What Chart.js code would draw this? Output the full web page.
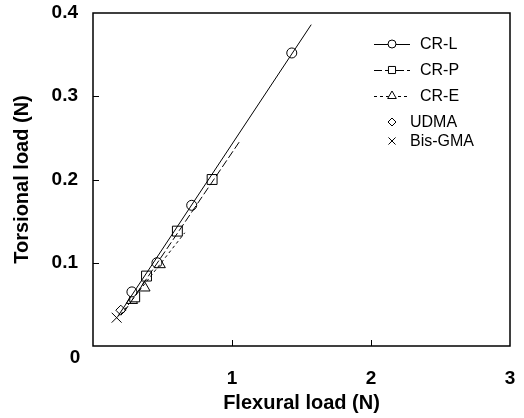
<!DOCTYPE html>
<html>
<head>
<meta charset="utf-8">
<script src="https://cdn.jsdelivr.net/npm/chart.js@4"></script>
<style>
html,body{margin:0;padding:0;background:#fff;}
#wrap{width:524px;height:418px;}
</style>
</head>
<body>
<div id="wrap"><canvas id="c" width="524" height="418"></canvas></div>
<script>
// ---- data ----
const crL_x = [0.28, 0.46, 0.71, 1.43];
const crL_y = [0.065, 0.100, 0.169, 0.352];
const crP_x = [0.30, 0.385, 0.607, 0.857];
const crP_y = [0.059, 0.084, 0.138, 0.200];
const crE_x = [0.28, 0.37, 0.48];
const crE_y = [0.055, 0.070, 0.098];
const udma_x = [0.20];
const udma_y = [0.043];
const bis_x = [0.17];
const bis_y = [0.034];
// fitted lines (end points)
const fitL_x = [0.18, 1.57];
const fitL_y = [0.036, 0.386];
const fitP_x = [0.22, 1.06];
const fitP_y = [0.040, 0.247];
const fitE_x = [0.20, 0.66];
const fitE_y = [0.038, 0.136];
const xTicks = [0, 1, 2, 3];
const yTicks = [0, 0.1, 0.2, 0.3, 0.4];
const seriesNames = ['CR-L', 'CR-P', 'CR-E', 'UDMA', 'Bis-GMA'];

const pts = (xs, ys) => xs.map((x, i) => ({x: x, y: ys[i]}));
const FONT = '"Liberation Sans", Arial, Helvetica, sans-serif';

const markerStyles = [
  {pointStyle: 'circle', r: 5, dash: []},
  {pointStyle: 'rect', r: 7, dash: [8, 3]},
  {pointStyle: 'triangle', r: 6.5, dash: [3, 3]},
  {pointStyle: 'rectRot', r: 5, dash: null},
  {pointStyle: 'crossRot', r: 7, dash: null}
];

function markerDS(label, data, st) {
  return {
    label: label, data: data, showLine: false,
    pointStyle: st.pointStyle, pointRadius: st.r,
    pointBorderColor: '#000', pointBackgroundColor: '#fff',
    pointBorderWidth: 1, borderColor: '#000', order: 2
  };
}
function fitDS(label, data, dash) {
  return {
    label: label, data: data, showLine: true, pointRadius: 0,
    borderColor: '#000', borderWidth: 1, borderDash: dash, fill: false, order: 1
  };
}

const datasets = [
  fitDS('CR-L fit', pts(fitL_x, fitL_y), []),
  fitDS('CR-P fit', pts(fitP_x, fitP_y), [8, 3]),
  fitDS('CR-E fit', pts(fitE_x, fitE_y), [3, 3]),
  markerDS(seriesNames[0], pts(crL_x, crL_y), markerStyles[0]),
  markerDS(seriesNames[1], pts(crP_x, crP_y), markerStyles[1]),
  markerDS(seriesNames[2], pts(crE_x, crE_y), markerStyles[2]),
  markerDS(seriesNames[3], pts(udma_x, udma_y), markerStyles[3]),
  markerDS(seriesNames[4], pts(bis_x, bis_y), markerStyles[4])
];

const extras = {
  id: 'extras',
  afterDraw(chart) {
    const ctx = chart.ctx, xs = chart.scales.x, ys = chart.scales.y, a = chart.chartArea;
    ctx.save();
    // frame
    ctx.strokeStyle = '#000';
    ctx.lineWidth = 1.5;
    ctx.strokeRect(a.left, a.top, a.right - a.left, a.bottom - a.top);
    // inward ticks
    ctx.lineWidth = 1;
    ctx.beginPath();
    xTicks.slice(1, -1).forEach(v => {
      const px = Math.round(xs.getPixelForValue(v)) + 0.5;
      ctx.moveTo(px, a.bottom); ctx.lineTo(px, a.bottom - 6);
    });
    yTicks.slice(1, -1).forEach(v => {
      const py = Math.round(ys.getPixelForValue(v)) + 0.5;
      ctx.moveTo(a.left, py); ctx.lineTo(a.left + 6, py);
    });
    ctx.stroke();
    // shared origin label
    ctx.fillStyle = '#000';
    ctx.font = 'bold 19px ' + FONT;
    ctx.textAlign = 'center';
    ctx.textBaseline = 'middle';
    ctx.fillText('0', xs.getPixelForValue(0) - 18, ys.getPixelForValue(0) + 12);
    // legend
    const lx = 374, rowsY = [44, 70, 96, 122, 141];
    ctx.font = '16px ' + FONT;
    ctx.textAlign = 'left';
    seriesNames.forEach((name, i) => {
      const st = markerStyles[i], y = rowsY[i];
      ctx.strokeStyle = '#000';
      ctx.lineWidth = 1;
      if (st.dash) {
        ctx.setLineDash(st.dash);
        ctx.beginPath();
        ctx.moveTo(lx, y + 0.5); ctx.lineTo(lx + 36, y + 0.5);
        ctx.stroke();
        ctx.setLineDash([]);
      }
      ctx.fillStyle = '#fff';
      Chart.helpers.drawPoint(ctx, {pointStyle: st.pointStyle, radius: Math.min(st.r, 6) - 1, borderWidth: 1, rotation: 0}, lx + 18, y);
      ctx.fillStyle = '#000';
      ctx.fillText(name, st.dash ? lx + 46 : lx + 36, y + 1);
    });
    ctx.restore();
  }
};

new Chart(document.getElementById('c'), {
  type: 'scatter',
  data: {datasets: datasets},
  options: {
    responsive: false,
    animation: false,
    devicePixelRatio: 1,
    layout: {padding: {left: 0, right: 14, top: 13, bottom: 0}},
    plugins: {legend: {display: false}, tooltip: {enabled: false}},
    scales: {
      x: {
        type: 'linear', min: 0, max: 3,
        afterBuildTicks(s) { s.ticks = xTicks.map(v => ({value: v})); },
        afterFit(s) { s.height = 72; s.paddingLeft = 0; s.paddingRight = 0; },
        grid: {display: false, drawTicks: false},
        border: {display: false},
        ticks: {
          padding: 21, color: '#000', font: {family: FONT, size: 19, weight: 'bold'},
          callback: v => (v === 0 ? '' : String(v))
        },
        title: {display: true, text: 'Flexural load (N)', color: '#000',
          font: {family: FONT, size: 20, weight: 'bold'}, padding: {top: 0, bottom: 3}}
      },
      y: {
        type: 'linear', min: 0, max: 0.4,
        afterBuildTicks(s) { s.ticks = yTicks.map(v => ({value: v})); },
        afterFit(s) { s.width = 93; s.paddingTop = 0; s.paddingBottom = 0; },
        grid: {display: false, drawTicks: false},
        border: {display: false},
        ticks: {
          padding: 15, color: '#000', font: {family: FONT, size: 19, weight: 'bold'},
          callback: v => (v === 0 ? '' : v.toFixed(1))
        },
        title: {display: true, text: 'Torsional load (N)', color: '#000',
          font: {family: FONT, size: 20, weight: 'bold'}, padding: {top: 10, bottom: 0}}
      }
    }
  },
  plugins: [extras]
});
</script>
</body>
</html>
